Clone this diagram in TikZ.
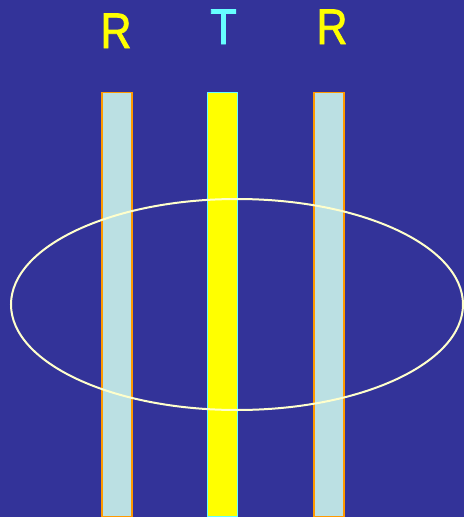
\documentclass[tikz,border=0pt]{standalone}
\usepackage{fontspec}
\setmainfont{Liberation Sans}
\newfontfamily\tagfont[FakeBold=1.6,FakeStretch=0.86]{Liberation Sans}
\usepackage{tikz}
\usetikzlibrary{positioning,shapes.geometric}
\definecolor{slide}{HTML}{333399}
\definecolor{glass}{HTML}{BBE0E3}
\definecolor{rim}{HTML}{FF9900}
\definecolor{beam}{HTML}{FFFF00}
\definecolor{aqua}{HTML}{66FFFF}
\definecolor{cream}{HTML}{FFFFCC}

\begin{document}
\begin{tikzpicture}[
  x=1pt,y=-1pt,
  every node/.style={font=\tagfont\fontsize{50}{60}\selectfont},
  plate/.style={draw=rim,fill=glass,line width=1.6pt,minimum width=30pt,minimum height=424pt,inner sep=0pt},
  core/.style={plate,draw=aqua,fill=beam},
  tag/.style={anchor=base,inner sep=0pt}
]
\fill[slide] (0,0) rectangle (464,517);
\useasboundingbox (0,0) rectangle (464,517);
\node[plate] (left) at (117,304.5) {};
\node[core] (mid) at (222.5,304.5) {};
\node[plate] (right) at (328.7,304.5) {};
\node[ellipse,draw=cream,line width=2pt,minimum width=452pt,minimum height=211pt,inner sep=0pt] (ring) at (237,304.5) {};
\node[tag,text=beam] (rl) at (116,48) {R};
\node[tag,text=aqua] (tm) at (223.5,44) {T};
\node[tag,text=beam] (rr) at (332,44) {R};
\end{tikzpicture}
\end{document}
